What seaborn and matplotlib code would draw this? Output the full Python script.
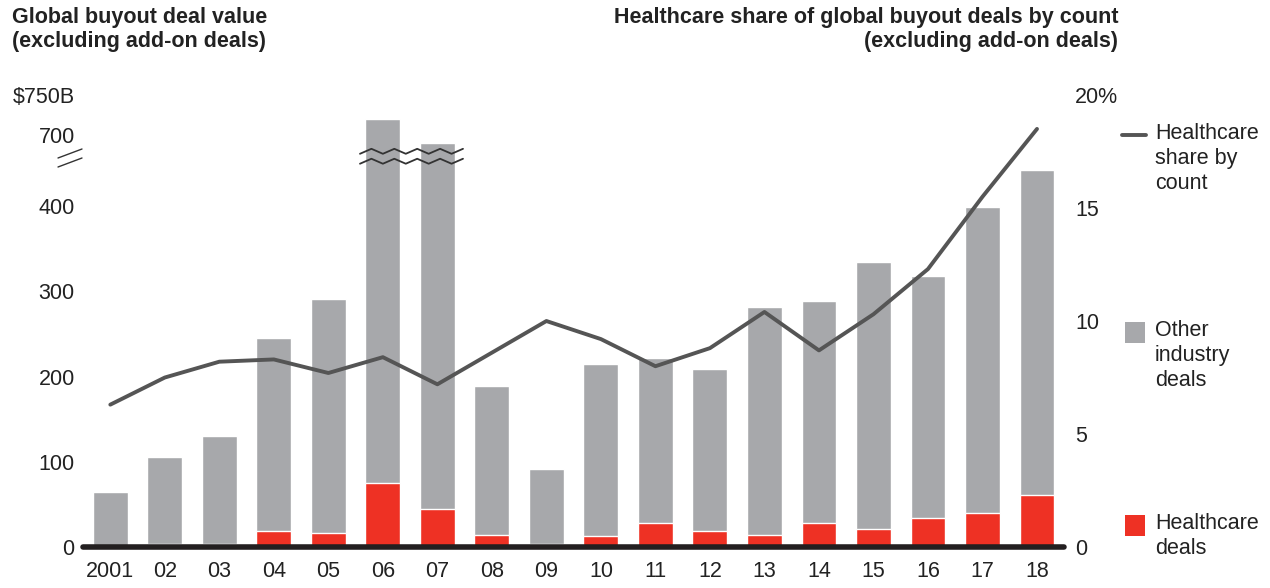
import numpy as np
import pandas as pd
import matplotlib
matplotlib.use("Agg")
import matplotlib.pyplot as plt
import matplotlib.transforms as mtransforms
from matplotlib.lines import Line2D
from matplotlib.patches import Rectangle
import seaborn as sns

# values
years = ["2001", "02", "03", "04", "05", "06", "07", "08", "09",
         "10", "11", "12", "13", "14", "15", "16", "17", "18"]
total_value = [65, 105, 130, 245, 291, 720, 690, 189, 91,
               215, 222, 209, 281, 288, 334, 318, 399, 442]
healthcare_value = [1, 4, 3, 19, 16, 75, 45, 14, 4,
                    13, 28, 19, 14, 28, 21, 34, 40, 61]
healthcare_share = [6.3, 7.5, 8.2, 8.3, 7.7, 8.4, 7.2, 8.6, 10.0,
                    9.2, 8.0, 8.8, 10.4, 8.7, 10.3, 12.3, 15.5, 18.5]
left_ticks = [0, 100, 200, 300, 400, 700, 750]
left_labels = ["0", "100", "200", "300", "400", "700", "$750B"]
right_ticks = [0, 5, 10, 15, 20]
right_labels = ["0", "5", "10", "15", "20%"]

GRAY = "#a7a8ab"
RED = "#ee3124"
LINE = "#555555"
TXT = "#222222"

sns.set_style("white")
plt.rcParams['font.family'] = ['Liberation Sans', 'DejaVu Sans']

df = pd.DataFrame({"year": years, "total": total_value, "hc": healthcare_value})


# broken axis: compress the 450-686 range
def fwd(v):
    v = np.asarray(v, dtype=float)
    return np.where(v <= 450, v,
                    np.where(v <= 686, 450 + (v - 450) * (20 / 236),
                             470 + (v - 686) * 0.94))


def inv(u):
    u = np.asarray(u, dtype=float)
    return np.where(u <= 450, u,
                    np.where(u <= 470, 450 + (u - 450) * (236 / 20),
                             686 + (u - 470) / 0.94))


fig = plt.figure(figsize=(12.7, 5.88), dpi=100)
ax = fig.add_axes([0.0654, 0.0697, 0.7726, 0.7687])
ax.set_yscale("function", functions=(fwd, inv))

sns.barplot(data=df, x="year", y="total", color=GRAY, width=0.64,
            saturation=1, edgecolor="white", linewidth=1, ax=ax)
sns.barplot(data=df, x="year", y="hc", color=RED, width=0.64,
            saturation=1, edgecolor="white", linewidth=1, ax=ax)

ax.set_xlim(-0.5, 17.5)
ax.set_ylim(0, 750)
ax.set_yticks(left_ticks)
ax.set_yticklabels(left_labels)
ax.yaxis.set_minor_locator(matplotlib.ticker.NullLocator())
ax.set_xlabel("")
ax.set_ylabel("")
ax.tick_params(axis="both", length=0, labelsize=15.5, colors=TXT)
ax.tick_params(axis="y", pad=6)
ax.tick_params(axis="x", pad=10)
for s in ax.spines.values():
    s.set_visible(False)
ax.axhline(0, color="#231f20", lw=4, zorder=5, clip_on=False)

ax2 = ax.twinx()
sns.lineplot(x=np.arange(len(years)), y=healthcare_share, color=LINE,
             lw=2.8, ax=ax2)
ax2.set_ylim(0, 20)
ax2.set_yticks(right_ticks)
ax2.set_yticklabels(right_labels)
ax2.tick_params(axis="y", length=0, labelsize=15.5, colors=TXT, pad=8)
for s in ax2.spines.values():
    s.set_visible(False)

# zigzag break marks on the 06 / 07 bars
trans = mtransforms.blended_transform_factory(ax.transData, ax.transAxes)
zx = np.linspace(4.58, 6.47, 10)
zz = np.where(np.arange(10) % 2 == 0, 0.0, 0.011)
for base in (0.870, 0.848):
    ax.plot(zx, base + zz, color="#333333", lw=1.3, transform=trans,
            clip_on=False, zorder=6)

# break marks on the left axis
for y0 in (158, 167):
    fig.add_artist(Line2D([58 / 1270, 82 / 1270],
                          [1 - y0 / 588, 1 - (y0 - 9) / 588],
                          color="#333333", lw=1))

fig.text(12 / 1270, 1 - 7 / 588,
         "Global buyout deal value\n(excluding add-on deals)",
         ha="left", va="top", fontsize=15.5, fontweight="bold",
         color=TXT, linespacing=1.2)
fig.text(1118 / 1270, 1 - 7 / 588,
         "Healthcare share of global buyout deals by count\n(excluding add-on deals)",
         ha="right", va="top", fontsize=15.5, fontweight="bold",
         color=TXT, linespacing=1.2, multialignment="right")

# legend, drawn by hand so the key sits on the first text line
W, H = 1270, 588
fig.add_artist(Line2D([1122 / W, 1146 / W], [1 - 135 / H, 1 - 135 / H],
                      color=LINE, lw=2.8))
fig.add_artist(Rectangle((1125 / W, 1 - 343 / H), 20 / W, 21 / H,
                         facecolor=GRAY, edgecolor="none"))
fig.add_artist(Rectangle((1125 / W, 1 - 536 / H), 20 / W, 21 / H,
                         facecolor=RED, edgecolor="none"))
for label, ymid in [("Healthcare\nshare by\ncount", 135),
                    ("Other\nindustry\ndeals", 332),
                    ("Healthcare\ndeals", 525)]:
    fig.text(1155 / W, 1 - (ymid - 12) / H, label, ha="left", va="top",
             fontsize=15.5, color=TXT, linespacing=1.25)

fig.savefig("out.png", dpi=100)
